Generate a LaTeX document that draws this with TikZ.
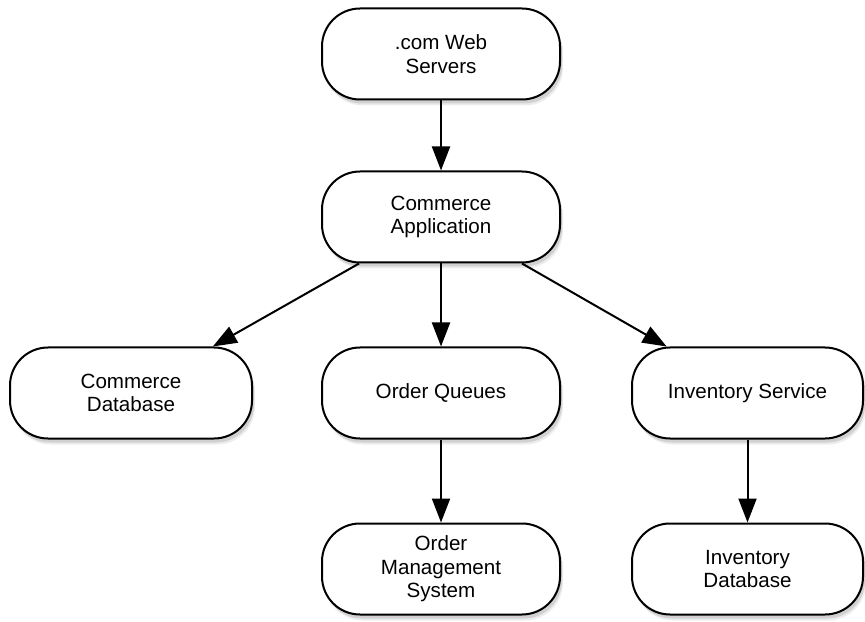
\documentclass[tikz,border=0pt]{standalone}
\usepackage{fontspec}
\setmainfont{Liberation Sans}
\usetikzlibrary{arrows.meta,shadows}
\tikzset{
  tier/.style={draw,line width=1pt,fill=white,rounded corners=19pt,minimum width=119pt,minimum height=45.5pt,align=center,inner sep=2pt,font=\fontsize{10.3}{11.8}\selectfont,
    drop shadow={shadow xshift=1.5pt,shadow yshift=-3pt,opacity=0.15},
    drop shadow={shadow xshift=1pt,shadow yshift=-2pt,opacity=0.25}},
}
\begin{document}
\begin{tikzpicture}[x=0.5pt,y=0.5pt,line width=1pt,>={Triangle[length=12pt,width=9pt]}]
  \useasboundingbox (0,0) rectangle (865,621);
  \node[tier] (web) at (441,567) {.com Web\\Servers};
  \node[tier] (app) at (441,404) {Commerce\\Application};
  \node[tier,minimum width=121pt] (cdb) at (131,228) {Commerce\\Database};
  \node[tier] (queues) at (441,228) {Order Queues};
  \node[tier,minimum width=115.5pt] (inv) at (747.5,228) {Inventory Service};
  \node[tier] (oms) at (441,52) {Order\\Management\\System};
  \node[tier,minimum width=115.5pt] (idb) at (747.5,52) {Inventory\\Database};
  \draw[->] (web) -- (app);
  \draw[->] (app) -- (cdb);
  \draw[->] (app) -- (queues);
  \draw[->] (app) -- (inv);
  \draw[->] (queues) -- (oms);
  \draw[->] (inv) -- (idb);
\end{tikzpicture}
\end{document}
